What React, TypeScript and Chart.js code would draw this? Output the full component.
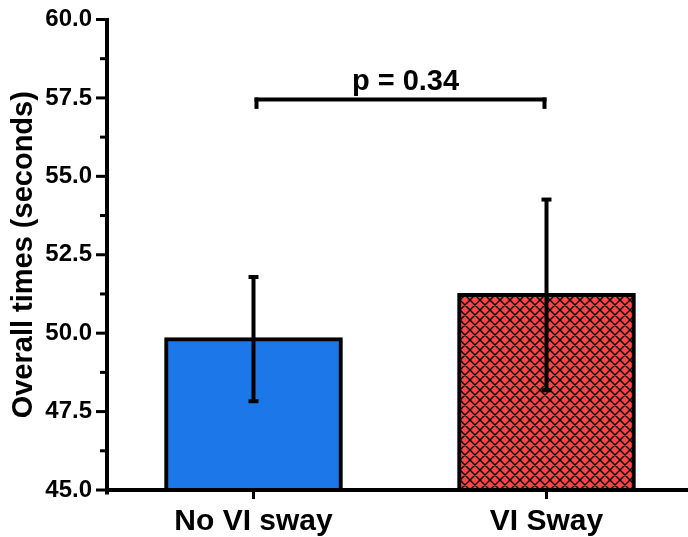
import React, { useEffect, useRef } from 'react';
import { Chart, registerables } from 'chart.js';

Chart.register(...registerables);

const categories = ['No VI sway', 'VI Sway'];
const means = [49.81, 51.22];
const errors = [1.98, 3.04];
const yMin = 45;
const yMax = 60;
const majorStep = 2.5;
const minorStep = 1.25;
const yTitle = 'Overall times (seconds)';
const pLabel = 'p = 0.34';
const bracketValue = 57.45;
const bracketDrop = 0.3;

const FONT = '"Liberation Sans", Arial, Helvetica, sans-serif';
const BLUE = '#1C78E8';
const RED = '#FF4646';

function makeHatch(): CanvasPattern | string {
  const c = document.createElement('canvas');
  const s = 10;
  c.width = s;
  c.height = s;
  const g = c.getContext('2d');
  if (!g) return RED;
  g.fillStyle = RED;
  g.fillRect(0, 0, s, s);
  g.strokeStyle = '#000';
  g.lineWidth = 1.4;
  g.beginPath();
  for (const k of [-s, 0, s]) {
    g.moveTo(k, 0);
    g.lineTo(k + s, s);
    g.moveTo(k, s);
    g.lineTo(k + s, 0);
  }
  g.stroke();
  const p = g.createPattern(c, 'repeat');
  return p || RED;
}

const overlay = {
  id: 'overlay',
  afterDatasetsDraw(chart: any) {
    const ctx = chart.ctx as CanvasRenderingContext2D;
    const xs = chart.scales.x;
    const ys = chart.scales.y;
    const area = chart.chartArea;
    ctx.save();
    ctx.fillStyle = '#000';
    // error bars
    means.forEach((m, i) => {
      const x = xs.getPixelForValue(i);
      const yTop = ys.getPixelForValue(m + errors[i]);
      const yBot = ys.getPixelForValue(m - errors[i]);
      ctx.fillRect(x - 2, yTop, 4, yBot - yTop);
      ctx.fillRect(x - 5, yTop - 2, 10, 4);
      ctx.fillRect(x - 5, yBot - 2, 10, 4);
    });
    // axes lines
    ctx.fillRect(area.left - 2, area.top - 1.5, 4, area.bottom - area.top + 6);
    ctx.fillRect(area.left - 2, area.bottom - 2, area.right - area.left + 2, 4);
    // y ticks
    ys.ticks.forEach((t: any) => {
      const y = ys.getPixelForValue(t.value);
      const r = t.value / majorStep;
      const major = Math.abs(r - Math.round(r)) < 1e-6;
      const len = major ? 9 : 5;
      ctx.fillRect(area.left - 2 - len, y - 1.5, len, 3);
    });
    // x ticks
    categories.forEach((_, i) => {
      const x = xs.getPixelForValue(i);
      ctx.fillRect(x - 1.5, area.bottom, 3, 9);
    });
    // bracket
    const bx1 = xs.getPixelForValue(0) + 3;
    const bx2 = xs.getPixelForValue(1) - 2;
    const by = ys.getPixelForValue(bracketValue);
    const byEnd = ys.getPixelForValue(bracketValue - bracketDrop);
    ctx.fillRect(bx1 - 2, by - 2, bx2 - bx1 + 4, 4);
    ctx.fillRect(bx1 - 2, by - 2, 4, byEnd - by + 2);
    ctx.fillRect(bx2 - 2, by - 2, 4, byEnd - by + 2);
    ctx.font = 'bold 29px ' + FONT;
    ctx.textAlign = 'center';
    ctx.textBaseline = 'alphabetic';
    ctx.fillText(pLabel, (bx1 + bx2) / 2 + 5, by - 9.5);
    ctx.restore();
  },
};

export default function App() {
  const ref = useRef<HTMLCanvasElement | null>(null);
  useEffect(() => {
    const canvas = ref.current;
    if (!canvas) return;
    const hatch = makeHatch();
    const chart = new Chart(canvas, {
      type: 'bar',
      data: {
        labels: categories,
        datasets: [
          {
            data: means,
            backgroundColor: [BLUE, hatch as any],
            borderColor: '#000',
            borderWidth: 4,
            borderSkipped: false,
            inflateAmount: 2,
            barPercentage: 0.596,
            categoryPercentage: 1,
          } as any,
        ],
      },
      options: {
        responsive: false,
        animation: false,
        devicePixelRatio: 1,
        layout: { padding: { top: 19.5, left: 0, right: 0, bottom: 0 } },
        plugins: { legend: { display: false }, tooltip: { enabled: false } },
        scales: {
          x: {
            grid: { display: false, drawTicks: false },
            border: { display: false },
            ticks: { color: '#000', font: { family: FONT, size: 30, weight: 'bold' }, padding: 14, maxRotation: 0 },
            afterFit: (s: any) => {
              s.height = 47;
              s.paddingLeft = 0;
              s.paddingRight = 0;
            },
          },
          y: {
            min: yMin,
            max: yMax,
            grid: { display: false, drawTicks: false },
            border: { display: false },
            ticks: {
              stepSize: minorStep,
              color: '#000',
              font: { family: FONT, size: 24, weight: 'bold' },
              padding: 15,
              callback: (v: any) => {
                const r = Number(v) / majorStep;
                return Math.abs(r - Math.round(r)) < 1e-6 ? Number(v).toFixed(1) : '';
              },
            },
            title: {
              display: true,
              text: yTitle,
              color: '#000',
              font: { family: FONT, size: 29, weight: 'bold' },
              padding: { top: 7, bottom: 0 },
            },
            afterFit: (s: any) => {
              s.width = 107;
              s.paddingTop = 0;
              s.paddingBottom = 0;
            },
          },
        },
      } as any,
      plugins: [overlay],
    });
    return () => chart.destroy();
  }, []);
  return (
    <div style={{ position: 'absolute', left: 0, top: 0, width: 688, height: 537, overflow: 'hidden', background: '#fff' }}>
      <canvas ref={ref} width={693} height={537} style={{ display: 'block', width: 693, height: 537 }} />
    </div>
  );
}
